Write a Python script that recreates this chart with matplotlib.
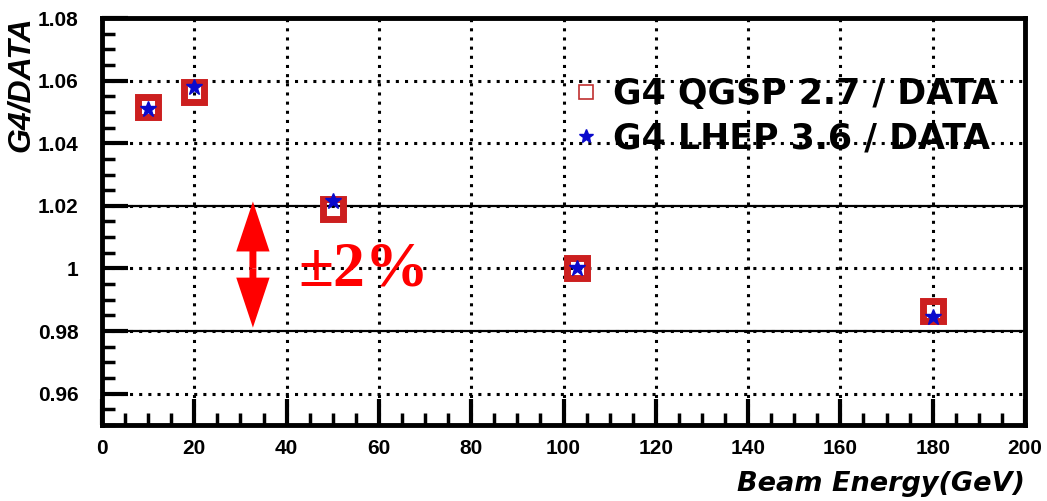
import matplotlib.pyplot as plt
from matplotlib.lines import Line2D
from matplotlib.ticker import MultipleLocator

energy = [10, 20, 50, 103, 180]
qgsp = [1.0516, 1.0563, 1.0190, 1.0000, 0.9864]
lhep = [1.0510, 1.0580, 1.0215, 1.0000, 0.9845]

plt.rcParams['font.family'] = ['Liberation Sans', 'DejaVu Sans']

fig = plt.figure(figsize=(10.47, 5.01), dpi=100)
ax = fig.add_axes([102/1047, 1 - 425/501, 923/1047, 407/501])

ax.set_xlim(0, 200)
ax.set_ylim(0.95, 1.08)
ax.xaxis.set_major_locator(MultipleLocator(20))
ax.xaxis.set_minor_locator(MultipleLocator(5))
ax.yaxis.set_minor_locator(MultipleLocator(0.005))
ax.set_yticks([0.96, 0.98, 1.0, 1.02, 1.04, 1.06, 1.08])
ax.set_yticklabels(['0.96', '0.98', '1', '1.02', '1.04', '1.06', '1.08'])

ax.grid(True, which='major', color='black', linestyle=(0, (1, 2)), linewidth=2.2)
ax.axhline(1.02, color='black', lw=1.6)
ax.axhline(0.98, color='black', lw=1.6)

ax.tick_params(which='major', direction='in', length=19, width=3,
               labelsize=15, top=False, right=False)
ax.tick_params(which='minor', direction='in', length=9, width=2.5,
               top=False, right=False)
ax.tick_params(axis='y', pad=17)
ax.tick_params(axis='x', pad=10)
for lab in ax.get_xticklabels() + ax.get_yticklabels():
    lab.set_fontweight('bold')
for s in ax.spines.values():
    s.set_linewidth(3.5)

ax.plot(energy, qgsp, linestyle='none', marker='s', markersize=14,
        markerfacecolor='none', markeredgecolor='#cc1f1f', markeredgewidth=5, zorder=5)
ax.plot(energy, lhep, linestyle='none', marker='*', markersize=12,
        color='#0a0acc', zorder=6)

# +-2% double arrow, drawn as two arrows from the middle
for tip in (1.0214, 0.9811):
    ax.annotate('', xy=(32.7, tip), xytext=(32.7, 1.0),
                arrowprops=dict(width=5, headwidth=24, headlength=36,
                                color='red', shrink=0, lw=0))
ax.text(42.5, 0.9995, '±2%', color='red', fontsize=46, fontweight='bold',
        family=['Liberation Serif', 'DejaVu Serif'], ha='left', va='center')

handles = [Line2D([], [], linestyle='none', marker='s', markersize=10,
                  markerfacecolor='none', markeredgecolor='#c03030', markeredgewidth=1.2),
           Line2D([], [], linestyle='none', marker='*', markersize=10, color='#0a0acc')]
ax.legend(handles, ['G4 QGSP 2.7 / DATA', 'G4 LHEP 3.6 / DATA'],
          loc='upper left', bbox_to_anchor=(0.49, 0.89), frameon=False,
          prop=dict(size=25, weight='bold', family='DejaVu Sans'), handletextpad=0.3,
          handlelength=1.0, labelspacing=0.3, borderaxespad=0)

fig.text(0.006, 1 - 16/501, 'G4/DATA', rotation=90, ha='left', va='top',
         fontsize=23, fontweight='bold', fontstyle='italic')
fig.text(1025/1047, 1 - 497/501, 'Beam Energy(GeV)', ha='right', va='bottom',
         fontsize=19.5, fontweight='bold', fontstyle='italic', family='DejaVu Sans')

fig.savefig('out.png', dpi=100)
